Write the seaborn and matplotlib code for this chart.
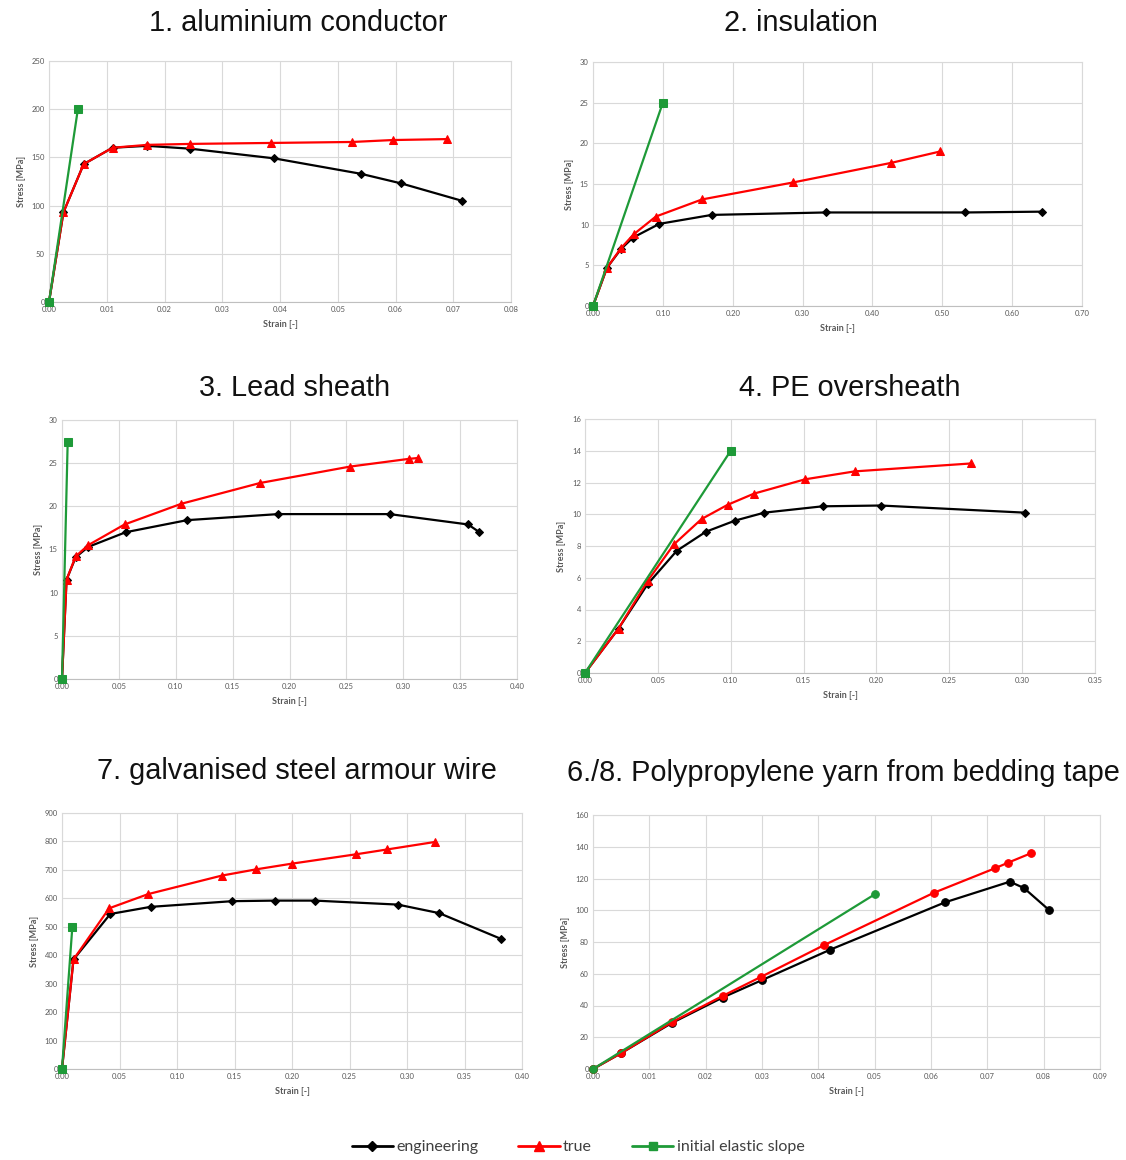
import numpy as np
import pandas as pd
import matplotlib
matplotlib.use("Agg")
import matplotlib.pyplot as plt
from matplotlib.lines import Line2D
import seaborn as sns

# 1. aluminium conductor
al_eng_x = [0.0, 0.0025, 0.006, 0.011, 0.017, 0.0245, 0.039, 0.054, 0.061, 0.0715]
al_eng_y = [0, 93, 143, 160, 162, 159, 149, 133, 123, 105]
al_true_x = [0.0, 0.0025, 0.006, 0.011, 0.017, 0.0245, 0.0385, 0.0525, 0.0595, 0.069]
al_true_y = [0, 93, 143, 160, 163, 164, 165, 166, 168, 169]
al_el_x = [0.0, 0.005]
al_el_y = [0, 200]

# 2. insulation
ins_eng_x = [0.0, 0.02, 0.04, 0.057, 0.095, 0.17, 0.333, 0.533, 0.643]
ins_eng_y = [0, 4.7, 7.0, 8.4, 10.1, 11.2, 11.5, 11.5, 11.6]
ins_true_x = [0.0, 0.02, 0.04, 0.058, 0.09, 0.156, 0.287, 0.427, 0.497]
ins_true_y = [0, 4.7, 7.1, 8.8, 11.0, 13.1, 15.2, 17.6, 19.0]
ins_el_x = [0.0, 0.1]
ins_el_y = [0, 25]

# 3. Lead sheath
pb_eng_x = [0.0, 0.004, 0.012, 0.023, 0.056, 0.11, 0.19, 0.288, 0.357, 0.367]
pb_eng_y = [0, 11.5, 14.1, 15.3, 17.0, 18.4, 19.1, 19.1, 17.9, 17.0]
pb_true_x = [0.0, 0.004, 0.012, 0.023, 0.055, 0.105, 0.174, 0.253, 0.305, 0.313]
pb_true_y = [0, 11.5, 14.2, 15.5, 17.9, 20.3, 22.7, 24.6, 25.5, 25.6]
pb_el_x = [0.0, 0.005]
pb_el_y = [0, 27.5]

# 4. PE oversheath
pe_eng_x = [0.0, 0.023, 0.043, 0.063, 0.083, 0.103, 0.123, 0.163, 0.203, 0.302]
pe_eng_y = [0, 2.8, 5.6, 7.7, 8.9, 9.6, 10.1, 10.5, 10.55, 10.1]
pe_true_x = [0.0, 0.023, 0.043, 0.061, 0.08, 0.098, 0.116, 0.151, 0.185, 0.265]
pe_true_y = [0, 2.8, 5.8, 8.1, 9.7, 10.6, 11.3, 12.2, 12.7, 13.2]
pe_el_x = [0.0, 0.1]
pe_el_y = [0, 14]

# 7. galvanised steel armour wire
st_eng_x = [0.0, 0.01, 0.042, 0.077, 0.148, 0.185, 0.22, 0.292, 0.328, 0.382]
st_eng_y = [0, 385, 545, 570, 590, 592, 592, 578, 548, 457]
st_true_x = [0.0, 0.01, 0.041, 0.075, 0.139, 0.169, 0.2, 0.256, 0.283, 0.324]
st_true_y = [0, 385, 565, 615, 680, 702, 722, 755, 772, 798]
st_el_x = [0.0, 0.009]
st_el_y = [0, 500]

# 6./8. Polypropylene yarn
pp_eng_x = [0.0, 0.005, 0.014, 0.023, 0.030, 0.042, 0.0625, 0.074, 0.0765, 0.081]
pp_eng_y = [0, 10, 29, 45, 56, 75, 105, 118, 114, 100]
pp_true_x = [0.0, 0.005, 0.014, 0.023, 0.0298, 0.041, 0.0605, 0.0714, 0.0737, 0.0778]
pp_true_y = [0, 10, 29.5, 46, 58, 78, 111, 126.5, 130, 136]
pp_el_x = [0.0, 0.05]
pp_el_y = [0, 110]

titles = ["1. aluminium conductor", "2. insulation", "3. Lead sheath",
          "4. PE oversheath", "7. galvanised steel armour wire",
          "6./8. Polypropylene yarn from bedding tape"]

BLACK, RED, GREEN = "#000000", "#ff0000", "#1e9a38"
GRAY = "#595959"

W, H = 1126, 1160
sns.set_style("white")
plt.rcParams['font.family'] = ['Lato', 'DejaVu Sans']
fig = plt.figure(figsize=(W / 100, H / 100), dpi=100)


def add_ax(x0, x1, y0, y1):
    return fig.add_axes([x0 / W, 1 - y1 / H, (x1 - x0) / W, (y1 - y0) / H])


panels = [
    dict(box=(49, 511, 61, 302), title_xy=(298, 23), xlim=0.08, xstep=0.01,
         ylim=250, ystep=50, series=[(al_eng_x, al_eng_y), (al_true_x, al_true_y), (al_el_x, al_el_y)],
         markers=["D", "^", "s"]),
    dict(box=(593, 1082, 62, 306), title_xy=(801, 23), xlim=0.70, xstep=0.10,
         ylim=30, ystep=5, series=[(ins_eng_x, ins_eng_y), (ins_true_x, ins_true_y), (ins_el_x, ins_el_y)],
         markers=["D", "^", "s"]),
    dict(box=(62, 517, 420, 679), title_xy=(295, 388), xlim=0.40, xstep=0.05,
         ylim=30, ystep=5, series=[(pb_eng_x, pb_eng_y), (pb_true_x, pb_true_y), (pb_el_x, pb_el_y)],
         markers=["D", "^", "s"]),
    dict(box=(585, 1095, 419, 673), title_xy=(850, 388), xlim=0.35, xstep=0.05,
         ylim=16, ystep=2, series=[(pe_eng_x, pe_eng_y), (pe_true_x, pe_true_y), (pe_el_x, pe_el_y)],
         markers=["D", "^", "s"]),
    dict(box=(62, 522, 813, 1069), title_xy=(297, 771), xlim=0.40, xstep=0.05,
         ylim=900, ystep=100, series=[(st_eng_x, st_eng_y), (st_true_x, st_true_y), (st_el_x, st_el_y)],
         markers=["D", "^", "s"]),
    dict(box=(593, 1100, 815, 1069), title_xy=(843, 773), xlim=0.09, xstep=0.01,
         ylim=160, ystep=20, series=[(pp_eng_x, pp_eng_y), (pp_true_x, pp_true_y), (pp_el_x, pp_el_y)],
         markers=["o", "o", "o"]),
]

colors = [BLACK, RED, GREEN]
msizes = {"D": 4.5, "^": 5.5, "s": 5.5, "o": 5.5}

for p, title in zip(panels, titles):
    x0, x1, y0, y1 = p["box"]
    ax = add_ax(x0, x1, y0, y1)
    for i in range(3):
        xs, ys = p["series"][i]
        df = pd.DataFrame({"strain": xs, "stress": ys})
        mk = p["markers"][i]
        sns.lineplot(data=df, x="strain", y="stress", ax=ax, sort=False, color=colors[i],
                     marker=mk, markersize=msizes[mk], markeredgecolor=colors[i],
                     linewidth=1.6, legend=False, clip_on=False, zorder=3)
    xt = np.round(np.arange(0, p["xlim"] + 1e-9, p["xstep"]), 3)
    yt = np.round(np.arange(0, p["ylim"] + 1e-9, p["ystep"]), 3)
    ax.set_xlim(0, p["xlim"])
    ax.set_ylim(0, p["ylim"])
    ax.set_xticks(xt)
    ax.set_yticks(yt)
    ax.set_xticklabels(["{:.2f}".format(v) for v in xt])
    ax.set_yticklabels(["{:g}".format(v) for v in yt])
    ax.tick_params(labelsize=5.5, colors=GRAY, length=0, pad=3)
    ax.grid(True, color="#d9d9d9", linewidth=0.8)
    for s in ax.spines.values():
        s.set_color("#d9d9d9")
        s.set_linewidth(0.8)
    ax.spines["bottom"].set_color("#bfbfbf")
    ax.set_xlabel("Strain [-]", fontsize=6.5, fontweight="bold", color=GRAY, labelpad=5)
    ax.set_ylabel("Stress [MPa]", fontsize=6.5, fontweight="bold", color=GRAY, labelpad=4)
    tx, ty = p["title_xy"]
    fig.text(tx / W, 1 - ty / H, title, ha="center", va="center", fontsize=20.8,
             family=["Liberation Sans", "DejaVu Sans"], color="#111111")

handles = [
    Line2D([], [], color=BLACK, marker="D", markersize=5, linewidth=2),
    Line2D([], [], color=RED, marker="^", markersize=7, linewidth=2),
    Line2D([], [], color=GREEN, marker="s", markersize=6, linewidth=2),
]
fig.legend(handles, ["engineering", "true", "initial elastic slope"], loc="center",
           bbox_to_anchor=(578 / W, 1 - 1147 / H), ncol=3, frameon=False, fontsize=11.5,
           handlelength=2.6, handletextpad=0.2, columnspacing=2.5, labelcolor="#404040")

fig.savefig("out.png", dpi=100, facecolor="white")
